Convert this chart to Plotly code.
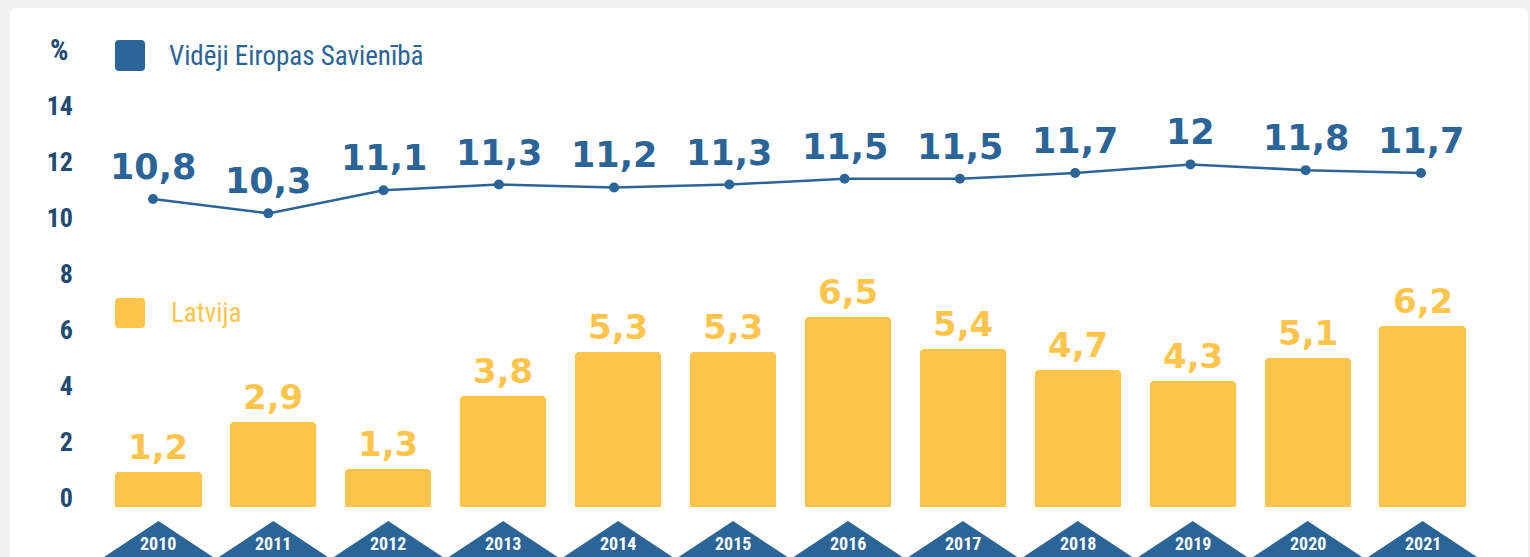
import plotly.graph_objects as go

years = ["2010", "2011", "2012", "2013", "2014", "2015", "2016", "2017", "2018", "2019", "2020", "2021"]
eu_avg = [10.8, 10.3, 11.1, 11.3, 11.2, 11.3, 11.5, 11.5, 11.7, 12, 11.8, 11.7]
latvia = [1.2, 2.9, 1.3, 3.8, 5.3, 5.3, 6.5, 5.4, 4.7, 4.3, 5.1, 6.2]
y_ticks = [0, 2, 4, 6, 8, 10, 12, 14]
name_eu = "Vidēji Eiropas Savienībā"
name_lv = "Latvija"
unit = "%"

BLUE = "#2b6496"
NAVY = "#1f4a73"
YELLOW = "#ffc44b"
NARROW = "Liberation Sans Narrow, Roboto Condensed, Arial Narrow, sans-serif"
WIDE = "DejaVu Sans, sans-serif"

W, H = 1530, 557
L, R = 101, 50
PW = W - L - R


def fmt(v):
    return f"{v:g}".replace(".", ",")


def px(xp):
    return (xp - L) / PW


def py(yp):
    return 1 - yp / H


def rrect(x0, y0, x1, y1, r):
    pts = lambda x, y: f"{px(x):.5f},{py(y):.5f}"
    return (f"M {pts(x0 + r, y0)} L {pts(x1 - r, y0)} Q {pts(x1, y0)} {pts(x1, y0 + r)} "
            f"L {pts(x1, y1 - r)} Q {pts(x1, y1)} {pts(x1 - r, y1)} L {pts(x0 + r, y1)} "
            f"Q {pts(x0, y1)} {pts(x0, y1 - r)} L {pts(x0, y0 + r)} Q {pts(x0, y0)} {pts(x0 + r, y0)} Z")


n = len(years)
idx = list(range(n))

fig = go.Figure()
fig.add_trace(go.Bar(x=idx, y=latvia, width=0.75, marker=dict(color=YELLOW, cornerradius=4, line=dict(width=0)),
                     hoverinfo="skip", showlegend=False, xaxis="x", yaxis="y"))
fig.add_trace(go.Scatter(x=idx, y=eu_avg, mode="lines+markers", line=dict(color=BLUE, width=2.5),
                         marker=dict(color=BLUE, size=10), hoverinfo="skip", showlegend=False,
                         xaxis="x2", yaxis="y3"))
# carrier for tick axis
fig.add_trace(go.Scatter(x=[0], y=[0], mode="markers", marker=dict(opacity=0, size=1), hoverinfo="skip",
                         showlegend=False, xaxis="x", yaxis="y2"))

shapes = []
# card
shapes.append(dict(type="path", xref="paper", yref="paper", path=rrect(10, 8, 1528, 600, 7),
                   fillcolor="white", line=dict(width=0), layer="below"))
# legend swatches
shapes.append(dict(type="path", xref="paper", yref="paper", path=rrect(115, 40, 145, 71, 4),
                   fillcolor=BLUE, line=dict(width=0)))
shapes.append(dict(type="path", xref="paper", yref="paper", path=rrect(115, 298, 145, 328, 4),
                   fillcolor=YELLOW, line=dict(width=0)))

# bar axis: 0 at 507px, 29.2 px/unit
def ybar(yp):
    return (507 - yp) / 29.2

for i in idx:
    shapes.append(dict(type="path", xref="x", yref="y",
                       path=f"M {i - 0.474},{ybar(557):.4f} L {i},{ybar(521):.4f} L {i + 0.474},{ybar(557):.4f} Z",
                       fillcolor=BLUE, line=dict(width=0), layer="above"))

ann = []
for i, y in zip(idx, years):
    ann.append(dict(x=i, y=py(543), xref="x", yref="paper", text=y, showarrow=False,
                    font=dict(family=NARROW, size=18, color="white", weight="bold"), yanchor="middle"))
for i, v in zip(idx, latvia):
    ann.append(dict(x=i, y=v, xref="x", yref="y", text=fmt(v), showarrow=False, yanchor="middle", yshift=25,
                    font=dict(family=WIDE, size=34, color=YELLOW, weight="bold")))
for i, v in zip(idx, eu_avg):
    ann.append(dict(x=i, y=v, xref="x2", yref="y3", text=fmt(v), showarrow=False, yanchor="middle", yshift=32,
                    font=dict(family=WIDE, size=35, color=BLUE, weight="bold")))
ann.append(dict(x=px(167), y=py(56), xref="paper", yref="paper", text=name_eu, showarrow=False,
                xanchor="left", yanchor="middle", font=dict(family=NARROW, size=27, color=BLUE)))
ann.append(dict(x=px(169), y=py(313), xref="paper", yref="paper", text=name_lv, showarrow=False,
                xanchor="left", yanchor="middle", font=dict(family=NARROW, size=27, color=YELLOW)))
ann.append(dict(x=px(71), y=py(50), xref="paper", yref="paper", text=unit, showarrow=False,
                xanchor="right", yanchor="middle", font=dict(family=NARROW, size=29, color=NAVY, weight="bold")))

hid = dict(visible=False, showgrid=False, zeroline=False, fixedrange=True)
fig.update_layout(
    width=W, height=H,
    margin=dict(l=L, r=R, t=0, b=0, pad=0),
    paper_bgcolor="#f1f1f1", plot_bgcolor="rgba(0,0,0,0)",
    xaxis=dict(range=[-0.5, 11.5], **hid),
    xaxis2=dict(range=[(L - 153) / 115.27, (W - R - 153) / 115.27], overlaying="x", **hid),
    yaxis=dict(range=[ybar(557), ybar(0)], **hid),
    yaxis2=dict(range=[-(557 - 498) / 28, 498 / 28], overlaying="y", showgrid=False, zeroline=False,
                showline=False, tickvals=y_ticks, ticktext=[str(t) for t in y_ticks], ticks="",
                ticklabelstandoff=27, tickfont=dict(family=NARROW, size=26, color=NAVY, weight="bold"),
                fixedrange=True),
    yaxis3=dict(range=[-(557 - 510) / 28.8, 510 / 28.8], overlaying="y", **hid),
    shapes=shapes, annotations=ann, bargap=0,
)
fig.write_html("out.html")
